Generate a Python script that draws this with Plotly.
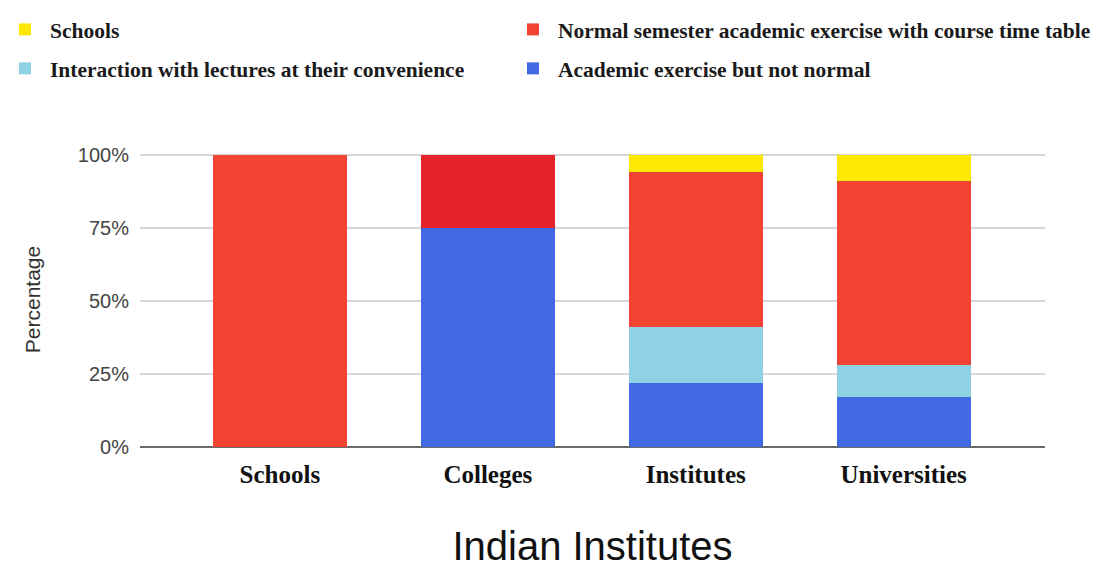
import plotly.graph_objects as go

# Survey of academic activity across Indian institutions (percent of respondents)
categories = ["Schools", "Colleges", "Institutes", "Universities"]
academic_not_normal = [0, 75, 22, 17]
interaction_at_convenience = [0, 0, 19, 11]
normal_semester = [100, 25, 53, 63]
schools_share = [0, 0, 6, 9]

y_ticks = [0, 25, 50, 75, 100]
y_tick_labels = [f"{v}%" for v in y_ticks]

BLUE = "#4169e1"
LIGHT_BLUE = "#8fd2e4"
RED = "#f24333"
RED_DEEP = "#e8222a"
YELLOW = "#fde804"

W, H = 1115, 570
PLOT_LEFT, PLOT_RIGHT = 140, 1045  # pixel extent of the plotting area
LEFT_COL_W, RIGHT_COL_W = 453, 542  # legend text widths of the two columns

fig = go.Figure()

# Stacked from the bottom up: blue, light blue, red, yellow.
# Each trace is its own legend group so the horizontal legend wraps
# into two columns: yellow | red, then light blue | blue.
fig.add_trace(go.Bar(
    x=categories, y=academic_not_normal,
    name="Academic exercise but not normal",
    marker=dict(color=BLUE, line=dict(width=0)),
    legendgroup="g1", legendrank=4, legendwidth=RIGHT_COL_W,
))
fig.add_trace(go.Bar(
    x=categories, y=interaction_at_convenience,
    name="Interaction with lectures at their convenience",
    marker=dict(color=LIGHT_BLUE, line=dict(width=0)),
    legendgroup="g2", legendrank=3, legendwidth=LEFT_COL_W,
))
fig.add_trace(go.Bar(
    x=categories, y=normal_semester,
    name="Normal semester academic exercise with course time table",
    marker=dict(color=[RED, RED_DEEP, RED, RED], line=dict(width=0)),
    legendgroup="g3", legendrank=2, legendwidth=RIGHT_COL_W,
))
fig.add_trace(go.Bar(
    x=categories, y=schools_share,
    name="Schools",
    marker=dict(color=YELLOW, line=dict(width=0)),
    legendgroup="g4", legendrank=1, legendwidth=LEFT_COL_W,
))

fig.update_layout(
    width=W, height=H,
    margin=dict(l=0, r=0, t=152, b=123),
    paper_bgcolor="white", plot_bgcolor="white",
    barmode="stack",
    bargap=0.355,
    font=dict(family="Liberation Sans", color="#444"),
    legend=dict(
        orientation="h",
        traceorder="grouped",
        tracegroupgap=8,
        x=0, y=1.485, xanchor="left", yanchor="top",
        itemwidth=40,
        font=dict(family="Liberation Serif", size=21.5, color="#1a1a1a", weight="bold"),
        bgcolor="rgba(0,0,0,0)",
    ),
    xaxis=dict(
        domain=[PLOT_LEFT / W, PLOT_RIGHT / W],
        range=[-0.673, 3.68],
        showgrid=False,
        showline=False,
        automargin=False,
        tickfont=dict(family="Liberation Serif", size=25, color="#111", weight="bold"),
        ticklabelstandoff=10,
        title=dict(
            text="Indian Institutes",
            font=dict(family="Liberation Sans", size=40, color="#111"),
            standoff=44,
        ),
    ),
    yaxis=dict(
        range=[0, 101],
        tickmode="array",
        tickvals=y_ticks,
        ticktext=y_tick_labels,
        automargin=False,
        tickfont=dict(family="Liberation Sans", size=20, color="#444"),
        ticklabelstandoff=10,
        showgrid=True, gridcolor="#d6d6d6", gridwidth=2,
        zeroline=True, zerolinecolor="#6b6b6b", zerolinewidth=2,
        title=dict(
            text="Percentage",
            font=dict(family="Liberation Sans", size=21, color="#333"),
            standoff=31,
        ),
    ),
)

fig.write_html("out.html")
